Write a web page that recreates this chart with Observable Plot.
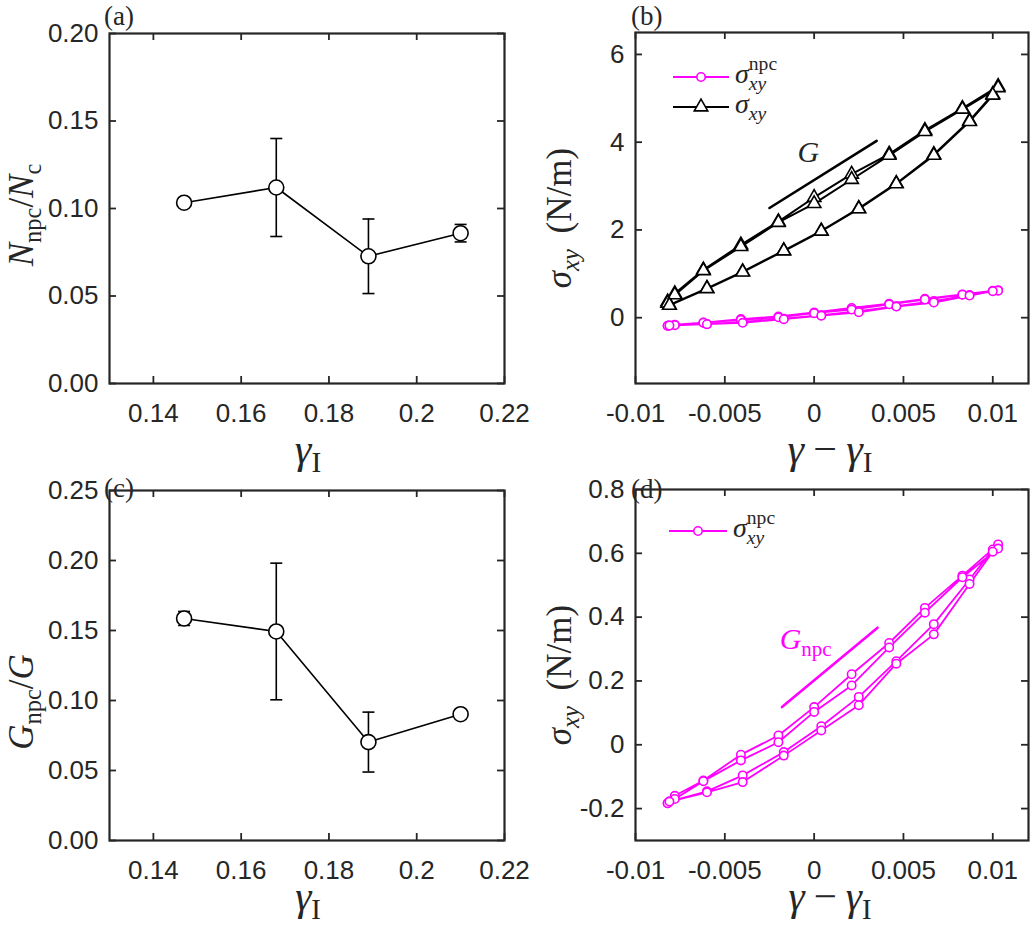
<!DOCTYPE html>
<html><head><meta charset="utf-8">
<script src="https://cdn.jsdelivr.net/npm/d3@7"></script>
<script src="https://cdn.jsdelivr.net/npm/@observablehq/plot@0.6"></script>
<style>
body{margin:0;background:#fff;}
#fig{position:relative;width:1031px;height:925px;background:#fff;overflow:hidden;}
#fig svg{position:absolute;overflow:visible;max-width:none;background:none;}
</style></head><body><div id="fig"></div>
<script>
// ---------- data ----------
const gammaI = [0.147, 0.168, 0.189, 0.210];
const nRatio = [0.1033, 0.1120, 0.0727, 0.0859];
const nRatioErr = [0.0020, 0.0280, 0.0213, 0.0050];
const gRatio = [0.1586, 0.1493, 0.0703, 0.0902];
const gRatioErr = [0.0050, 0.0488, 0.0214, 0.0030];

const strainUp = [-0.0082, -0.0078, -0.0062, -0.0041, -0.0020, 0.0000, 0.0021, 0.0042, 0.0062, 0.0083, 0.0103];
const strainDown = [0.0100, 0.0087, 0.0067, 0.0046, 0.0025, 0.0004, -0.0017, -0.0040, -0.0060, -0.0081];

const sigmaUp1 = [0.36, 0.55, 1.09, 1.66, 2.19, 2.74, 3.27, 3.73, 4.27, 4.77, 5.27];
const sigmaDown1 = [5.09, 4.49, 3.72, 3.06, 2.49, 1.98, 1.53, 1.05, 0.67, 0.29];
const sigmaUp2 = [0.33, 0.52, 1.07, 1.62, 2.17, 2.60, 3.15, 3.70, 4.24, 4.75, 5.24];
const sigmaDown2 = [5.07, 4.47, 3.70, 3.05, 2.48, 1.97, 1.52, 1.04, 0.66, 0.28];

const npcUp1 = [-0.183, -0.160, -0.112, -0.031, 0.029, 0.118, 0.221, 0.319, 0.429, 0.530, 0.628];
const npcDown1 = [0.612, 0.518, 0.378, 0.262, 0.150, 0.058, -0.023, -0.096, -0.146, -0.178];
const npcUp2 = [-0.183, -0.170, -0.114, -0.049, 0.008, 0.103, 0.186, 0.305, 0.414, 0.525, 0.615];
const npcDown2 = [0.605, 0.504, 0.346, 0.254, 0.124, 0.045, -0.034, -0.117, -0.149, -0.178];

const ticksGammaI = [0.14, 0.16, 0.18, 0.2, 0.22];
const ticksN = [0, 0.05, 0.10, 0.15, 0.20];
const ticksG = [0, 0.05, 0.10, 0.15, 0.20, 0.25];
const ticksStrain = [-0.01, -0.005, 0, 0.005, 0.01];
const ticksSigma = [0, 2, 4, 6];
const ticksNpc = [-0.2, 0, 0.2, 0.4, 0.6, 0.8];

const slopeGx = [-0.0025, 0.0035], slopeGy = [2.50, 4.03];
const slopeGnpcX = [-0.0018, 0.00355], slopeGnpcY = [0.118, 0.367];
const labelG = {x: -0.0003, y: 3.77};
const labelGnpc = {x: -0.0019, y: 0.327};

// ---------- helpers ----------
const AX = "#262626", MAG = "#ff00ff";
const SANS = "'Liberation Sans', Arial, sans-serif";
const SERIF = "'Liberation Serif', 'DejaVu Serif', serif";
const fig = document.getElementById("fig");

function loop(ups, downs) {
  const pts = [];
  ups.forEach((u, i) => {
    u.forEach((v, j) => pts.push({x: strainUp[j], y: v}));
    downs[i].forEach((v, j) => pts.push({x: strainDown[j], y: v}));
  });
  return pts;
}
const sigmaLoop = loop([sigmaUp1, sigmaUp2], [sigmaDown1, sigmaDown2]);
const npcLoop = loop([npcUp1, npcUp2], [npcDown1, npcDown2]);
const nTable = gammaI.map((x, i) => ({x, y: nRatio[i], e: nRatioErr[i]}));
const gTable = gammaI.map((x, i) => ({x, y: gRatio[i], e: gRatioErr[i]}));
const seg = (xs, ys) => xs.map((x, i) => ({x, y: ys[i]}));

const capSymbol = {draw(ctx, size) { const h = Math.sqrt(size / Math.PI); ctx.moveTo(-h, 0); ctx.lineTo(h, 0); }};

function panel({left, top, width, height, mt, mr, mb, ml, xDomain, yDomain, xTicks, yTicks, xFmt, yFmt, marks}) {
  const fw = width - ml - mr, fh = height - mt - mb;
  const p = Plot.plot({
    width, height, marginTop: mt, marginRight: mr, marginBottom: mb, marginLeft: ml,
    x: {domain: xDomain}, y: {domain: yDomain},
    style: {fontFamily: SANS, fontSize: "26px", color: AX, background: "none", overflow: "visible"},
    marks: [
      Plot.axisX({ticks: xTicks, tickSize: 0, tickPadding: 20, tickFormat: xFmt, label: null}),
      Plot.axisY({ticks: yTicks, tickSize: 0, tickPadding: 11, tickFormat: yFmt, label: null}),
      Plot.tickX(xTicks, {x: d => d, insetTop: fh - 7, stroke: AX, strokeWidth: 1.8}),
      Plot.tickX(xTicks, {x: d => d, insetBottom: fh - 7, stroke: AX, strokeWidth: 1.8}),
      Plot.tickY(yTicks, {y: d => d, insetRight: fw - 7, stroke: AX, strokeWidth: 1.8}),
      Plot.tickY(yTicks, {y: d => d, insetLeft: fw - 7, stroke: AX, strokeWidth: 1.8}),
      ...marks,
      Plot.frame({stroke: AX, strokeWidth: 2.2})
    ]
  });
  p.style.left = left + "px"; p.style.top = top + "px";
  fig.append(p);
  return p;
}

function errMarks(table) {
  return [
    Plot.ruleX(table, {x: "x", y1: d => d.y - d.e, y2: d => d.y + d.e, stroke: "black", strokeWidth: 1.6}),
    Plot.dot(table, {x: "x", y: d => d.y + d.e, symbol: capSymbol, r: 6, stroke: "black", strokeWidth: 1.6}),
    Plot.dot(table, {x: "x", y: d => d.y - d.e, symbol: capSymbol, r: 6, stroke: "black", strokeWidth: 1.6}),
    Plot.line(table, {x: "x", y: "y", stroke: "black", strokeWidth: 1.6}),
    Plot.dot(table, {x: "x", y: "y", r: 7.5, fill: "white", stroke: "black", strokeWidth: 1.6})
  ];
}
const npcMarks = [
  Plot.line(npcLoop, {x: "x", y: "y", stroke: MAG, strokeWidth: 1.8}),
  Plot.dot(npcLoop, {x: "x", y: "y", r: 4.2, fill: "white", stroke: MAG, strokeWidth: 1.6})
];

const fmtStr = d => String(d);
const pA = panel({left: 0, top: 0, width: 515, height: 455, mt: 33, mr: 11, mb: 72, ml: 109,
  xDomain: [0.13, 0.22], yDomain: [0, 0.2], xTicks: ticksGammaI, yTicks: ticksN, xFmt: fmtStr, yFmt: d3.format(".2f"),
  marks: errMarks(nTable)});
const pB = panel({left: 515, top: 0, width: 516, height: 455, mt: 32, mr: 3, mb: 72, ml: 120,
  xDomain: [-0.01, 0.012], yDomain: [-1.5, 6.5], xTicks: ticksStrain, yTicks: ticksSigma, xFmt: fmtStr, yFmt: fmtStr,
  marks: [
    ...npcMarks,
    Plot.line(sigmaLoop, {x: "x", y: "y", stroke: "black", strokeWidth: 2}),
    Plot.dot(sigmaLoop, {x: "x", y: "y", symbol: "triangle", r: 5, fill: "white", stroke: "black", strokeWidth: 1.6}),
    Plot.line(seg(slopeGx, slopeGy), {x: "x", y: "y", stroke: "black", strokeWidth: 2.6})
  ]});
const pC = panel({left: 0, top: 455, width: 515, height: 470, mt: 35, mr: 11, mb: 85, ml: 109,
  xDomain: [0.13, 0.22], yDomain: [0, 0.25], xTicks: ticksGammaI, yTicks: ticksG, xFmt: fmtStr, yFmt: d3.format(".2f"),
  marks: errMarks(gTable)});
const pD = panel({left: 515, top: 455, width: 516, height: 470, mt: 34, mr: 3, mb: 85, ml: 120,
  xDomain: [-0.01, 0.012], yDomain: [-0.3, 0.8], xTicks: ticksStrain, yTicks: ticksNpc, xFmt: fmtStr, yFmt: fmtStr,
  marks: [
    ...npcMarks,
    Plot.line(seg(slopeGnpcX, slopeGnpcY), {x: "x", y: "y", stroke: MAG, strokeWidth: 2.6})
  ]});

// ---------- overlay text ----------
const ov = d3.create("svg").attr("width", 1031).attr("height", 925)
  .style("left", "0px").style("top", "0px").style("pointer-events", "none");
fig.append(ov.node());

function math(pieces, {x, y, size, anchor = "middle", rotate = 0, color = AX}) {
  const g = ov.append("g").attr("transform", `translate(${x},${y}) rotate(${rotate})`);
  const inner = g.append("g");
  let cx = 0, pend = 0;
  for (const p of pieces) {
    const s = size * (p.scale ?? 1);
    const t = inner.append("text").attr("x", cx).attr("y", (p.dy ?? 0) * size)
      .attr("font-family", SERIF).attr("font-size", s)
      .attr("font-style", p.it ? "italic" : "normal").attr("fill", p.color ?? color).text(p.t);
    const w = t.node().getComputedTextLength();
    if (p.stack) pend = Math.max(pend, w);
    else { cx += Math.max(w, pend) + (p.gap ?? 0) * size; pend = 0; }
  }
  const shift = anchor === "middle" ? -cx / 2 : anchor === "end" ? -cx : 0;
  inner.attr("transform", `translate(${shift},0)`);
}
const sub = (t, it = false) => ({t, it, scale: 0.7, dy: 0.22});

// panel letters
[["(a)", 104, 25], ["(b)", 631, 25], ["(c)", 104, 497], ["(d)", 631, 498]].forEach(([t, x, y]) =>
  math([{t}], {x, y, size: 27, anchor: "start"}));

// x labels
const gI = [{t: "γ", it: true}, sub("I")];
const gmg = [{t: "γ", it: true, gap: 0.22}, {t: "−", gap: 0.22}, {t: "γ", it: true}, sub("I")];
math(gI, {x: 308, y: 463, size: 42});
math(gI, {x: 308, y: 910, size: 41});
math(gmg, {x: 830, y: 463, size: 42});
math(gmg, {x: 830, y: 910, size: 41});

// y labels
math([{t: "N", it: true}, sub("npc"), {t: "/"}, {t: "N", it: true}, sub("c")], {x: 33, y: 215, size: 35, rotate: -90});
math([{t: "G", it: true}, sub("npc"), {t: "/"}, {t: "G", it: true}], {x: 33, y: 702, size: 35, rotate: -90});
const sigLab = [{t: "σ", it: true}, {...sub("xy", true), gap: 0.45}, {t: "(N/m)"}];
math(sigLab, {x: 571, y: 218, size: 35, rotate: -90});
math(sigLab, {x: 571, y: 675, size: 35, rotate: -90});

// legends
function legendItem(x0, x1, y, color, symbol, label) {
  ov.append("line").attr("x1", x0).attr("x2", x1).attr("y1", y).attr("y2", y)
    .attr("stroke", color).attr("stroke-width", symbol === "circle" ? 1.8 : 2);
  const r = symbol === "circle" ? 4.2 : 5;
  ov.append("path").attr("d", d3.symbol(symbol === "circle" ? d3.symbolCircle : d3.symbolTriangle, r * r * Math.PI)())
    .attr("transform", `translate(${(x0 + x1) / 2},${y})`).attr("fill", "white").attr("stroke", color).attr("stroke-width", 1.6);
  math(label, {x: x1 + 6, y: y + 6, size: 28, anchor: "start"});
}
const sigNpc = [{t: "σ", it: true}, {t: "npc", scale: 0.7, dy: -0.45, stack: true}, {t: "xy", it: true, scale: 0.7, dy: 0.25}];
const sigXY = [{t: "σ", it: true}, {t: "xy", it: true, scale: 0.7, dy: 0.25}];
legendItem(673, 729, 77, MAG, "circle", sigNpc);
legendItem(673, 729, 107, "black", "triangle", sigXY);
legendItem(669, 727, 531, MAG, "circle", sigNpc);

// slope annotations positioned through the plots' scales
{
  const sx = pB.scale("x"), sy = pB.scale("y");
  math([{t: "G", it: true}], {x: 515 + sx.apply(labelG.x), y: sy.apply(labelG.y) + 10, size: 30});
  const dx = pD.scale("x"), dy = pD.scale("y");
  math([{t: "G", it: true, color: MAG}, {...sub("npc"), color: MAG}],
    {x: 515 + dx.apply(labelGnpc.x), y: 455 + dy.apply(labelGnpc.y) + 9, size: 30, anchor: "start"});
}
</script></body></html>
